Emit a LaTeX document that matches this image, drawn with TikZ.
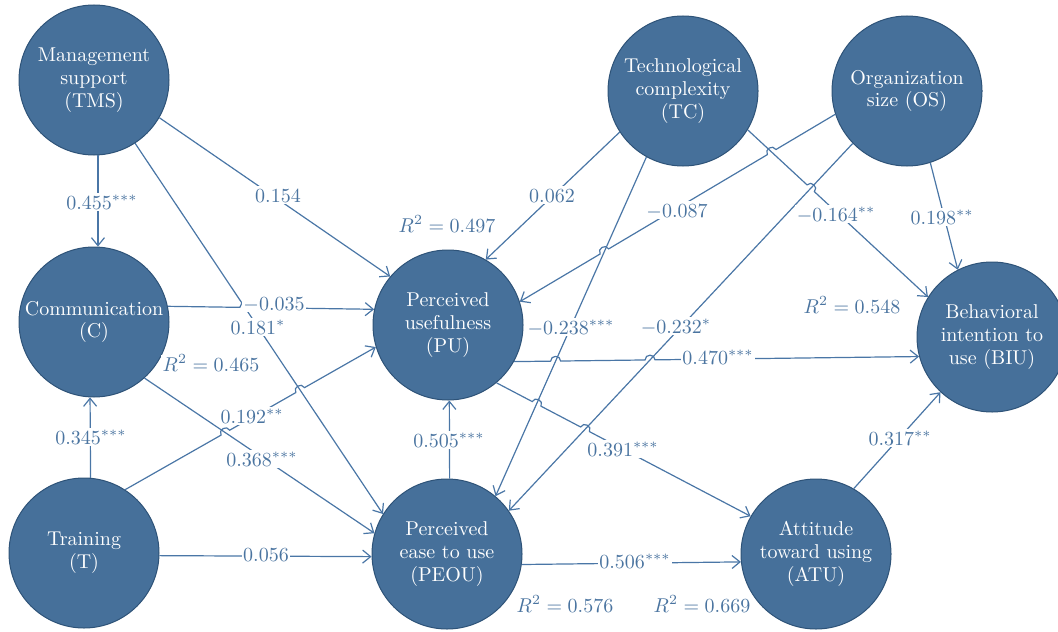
\documentclass[tikz,border=0pt]{standalone}
\usetikzlibrary{calc,intersections,arrows.meta}
\definecolor{nodefill}{HTML}{46709A}
\definecolor{nodeedge}{HTML}{2E5378}
\definecolor{linec}{HTML}{4A76A6}
\definecolor{labelc}{HTML}{4A74A0}
\begin{document}
\begin{tikzpicture}[x=0.5pt,y=0.5pt,
  latent/.style={circle, fill=nodefill, draw=nodeedge, line width=0.5pt, minimum size=75pt, inner sep=0pt, text=white, align=center, font=\fontsize{10}{11.4}\selectfont},
  conn/.style={draw=linec, line width=0.6pt, -{Straight Barb[length=4pt,width=6.5pt]}},
  lbl/.style={fill=white, inner sep=0.8pt, text=labelc, font=\fontsize{10}{12}\selectfont, text height=7pt, text depth=0pt},
  hop/.style={bend left=90, looseness=1.6},
  hopr/.style={bend right=90, looseness=1.6}
]
\useasboundingbox (0,0) rectangle (1058,-631);
\clip (0,0) rectangle (1058,-631);

% latent variables
\node[latent] (tms)  at (94,-80)   {Management\\support\\(TMS)};
\node[latent] (c)    at (94,-322)  {Communication\\(C)};
\node[latent] (t)    at (84,-553)  {Training\\(T)};
\node[latent] (pu)   at (448,-325) {Perceived\\usefulness\\(PU)};
\node[latent] (peou) at (447,-554) {Perceived\\ease to use\\(PEOU)};
\node[latent] (tc)   at (683,-91)  {Technological\\complexity\\(TC)};
\node[latent] (os)   at (907,-91)  {Organization\\size (OS)};
\node[latent] (biu)  at (992,-337) {Behavioral\\intention to\\use (BIU)};
\node[latent] (atu)  at (816,-554) {Attitude\\toward using\\(ATU)};

% straight connectors
\draw[conn] (tms.-87.5) -- (c.87.5);
\draw[conn] (tms.-30) -- (pu.140);
\draw[conn, name path=tmspeou] (tms.-57) -- (peou.148);
\draw[conn, name path=cpeou] (c.-48) -- (peou.164);
\draw[conn] (t.85.5) -- (c.-93.2);
\draw[conn] (t.-2.3) -- (peou.182.3);
\draw[conn] (peou.88.5) -- (pu.-89);
\draw[conn] (tc.-147) -- (pu.60);
\draw[conn, name path=tcpeou] (tc.-119) -- (peou.50);
\draw[conn, name path=ospeou] (os.-136) -- (peou.35);
\draw[conn] (os.-72) -- (biu.117);
\draw[conn] (peou.-8) -- (atu.186);
\draw[conn] (atu.60) -- (biu.-133);

% helper paths of connectors with line jumps
\path[name path=cpu] (c.12) -- (pu.168);
\path[name path=tpu] (t.57) -- (pu.-163);
\path[name path=ospu] (os.-162) -- (pu.18);
\path[name path=tcbiu] (tc.-31) -- (biu.148);
\path[name path=pubiu] (pu.-29) -- (biu.-165);
\path[name path=puatu] (pu.-50) -- (atu.150);

\path[name intersections={of=cpu and tmspeou, by=h1}];
\path[name intersections={of=tpu and cpeou, by=h2}];
\path[name intersections={of=tpu and tmspeou, by=h3}];
\path[name intersections={of=ospu and tcbiu, by=h4}];
\path[name intersections={of=ospu and tcpeou, by=h5}];
\path[name intersections={of=tcbiu and ospeou, by=h6}];
\path[name intersections={of=pubiu and tcpeou, by=h7}];
\path[name intersections={of=pubiu and ospeou, by=h8}];
\path[name intersections={of=puatu and tcpeou, by=h9}];
\path[name intersections={of=puatu and ospeou, by=h10}];

% connectors with line jumps
\draw[conn] (c.12) -- ($(h1)!2.5pt!(c.12)$) to[hop] ($(h1)!2.5pt!(pu.168)$) -- (pu.168);
\draw[conn] (t.57) -- ($(h2)!2.5pt!(t.57)$) to[hop] ($(h2)!2.5pt!(pu.-163)$)
  -- ($(h3)!2.5pt!(t.57)$) to[hop] ($(h3)!2.5pt!(pu.-163)$) -- (pu.-163);
\draw[conn] (os.-162) -- ($(h4)!2.5pt!(os.-162)$) to[hopr] ($(h4)!2.5pt!(pu.18)$)
  -- ($(h5)!2.5pt!(os.-162)$) to[hopr] ($(h5)!2.5pt!(pu.18)$) -- (pu.18);
\draw[conn] (tc.-31) -- ($(h6)!2.5pt!(tc.-31)$) to[hop] ($(h6)!2.5pt!(biu.148)$) -- (biu.148);
\draw[conn] (pu.-29) -- ($(h7)!2.5pt!(pu.-29)$) to[hop] ($(h7)!2.5pt!(biu.-165)$)
  -- ($(h8)!2.5pt!(pu.-29)$) to[hop] ($(h8)!2.5pt!(biu.-165)$) -- (biu.-165);
\draw[conn] (pu.-50) -- ($(h9)!2.5pt!(pu.-50)$) to[hop] ($(h9)!2.5pt!(atu.150)$)
  -- ($(h10)!2.5pt!(pu.-50)$) to[hop] ($(h10)!2.5pt!(atu.150)$) -- (atu.150);

% labels
\node[lbl] (l1)  at (102,-202) {0.455$^{\ast\ast\ast}$};
\node[lbl] (l2)  at (278,-195) {0.154};
\node[lbl] (l3)  at (447,-225) {$R^2 = 0.497$};
\node[lbl] (l4)  at (552,-195) {0.062};
\node[lbl] (l5)  at (677,-210) {$-$0.087};
\node[lbl] (l6)  at (836,-214) {$-$0.164$^{\ast\ast}$};
\node[lbl] (l7)  at (942,-217) {0.198$^{\ast\ast}$};
\node[lbl] (l8)  at (852,-306) {$R^2 = 0.548$};
\node[lbl] (l9)  at (274,-303) {$-$0.035};
\node[lbl] (l10) at (258,-327) {0.181$^{\ast}$};
\node[lbl] (l11) at (211,-364) {$R^2 = 0.465$};
\node[lbl] (l12) at (252,-416) {0.192$^{\ast\ast}$};
\node[lbl] (l13) at (91,-437)  {0.345$^{\ast\ast\ast}$};
\node[lbl] (l14) at (262,-459) {0.368$^{\ast\ast\ast}$};
\node[lbl] (l15) at (449,-440) {0.505$^{\ast\ast\ast}$};
\node[lbl] (l16) at (266,-554) {0.056};
\node[lbl] (l17) at (571,-327) {$-$0.238$^{\ast\ast\ast}$};
\node[lbl] (l18) at (676,-326) {$-$0.232$^{\ast}$};
\node[lbl] (l19) at (718,-357) {0.470$^{\ast\ast\ast}$};
\node[lbl] (l20) at (623,-449) {0.391$^{\ast\ast\ast}$};
\node[lbl] (l21) at (900,-438) {0.317$^{\ast\ast}$};
\node[lbl] (l22) at (635,-561) {0.506$^{\ast\ast\ast}$};
\node[lbl] (l23) at (565,-605) {$R^2 = 0.576$};
\node[lbl] (l24) at (702,-605) {$R^2 = 0.669$};
\end{tikzpicture}
\end{document}
